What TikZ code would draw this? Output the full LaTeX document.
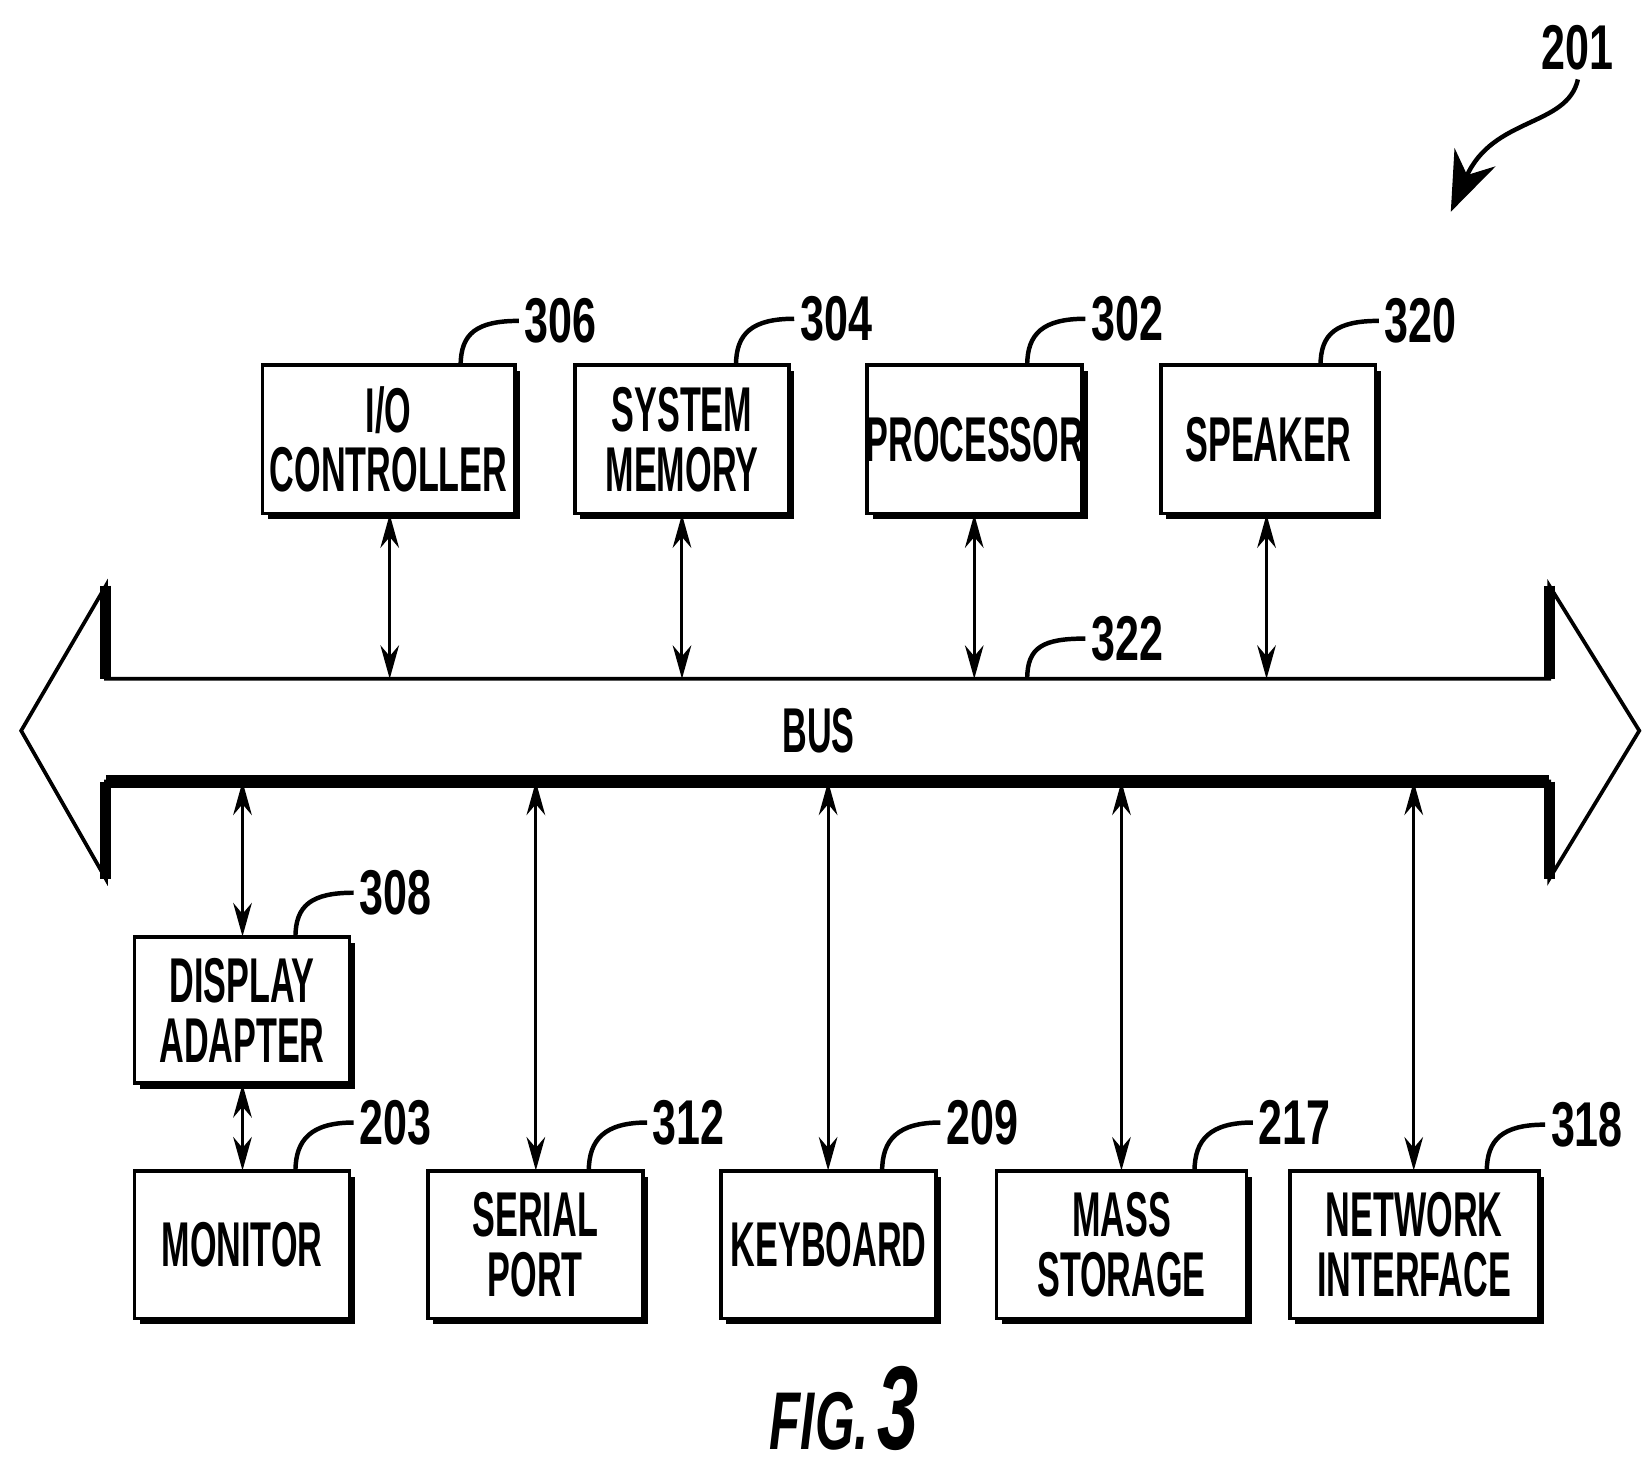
\documentclass[tikz,border=0pt]{standalone}
\usepackage{fontspec}
\setmainfont{Liberation Sans}
\usetikzlibrary{arrows.meta}
\newcommand\nt[1]{\scalebox{0.54}[1]{#1}}
\newcommand\nd[1]{\scalebox{0.68}[1]{#1}}
\begin{document}
\begin{tikzpicture}[x=0.01cm,y=-0.01cm,
  lab/.style={font=\bfseries\fontsize{17}{20}\selectfont,anchor=west,inner sep=1pt},
  conn/.style={{Stealth[length=9pt,width=5pt]}-{Stealth[length=9pt,width=5pt]},line width=0.8pt},
  hook/.style={line width=1.2pt}]
\useasboundingbox (0,0) rectangle (1560,1390);
\newcommand\bx[6]{%
 \fill (#2+5,#3+5) rectangle (#4+5,#5+5);
 \draw[line width=1pt,fill=white] (#2,#3) rectangle (#4,#5);
 \node[font=\bfseries\fontsize{17}{20}\selectfont,align=center,minimum width={(#4-#2)*0.01cm},minimum height={(#5-#3)*0.01cm},inner sep=0pt] (#1) at ({(#2+#4)/2},{(#3+#5)/2}) {#6};}
\bx{io}{248}{345}{486}{485}{\nt{I/O}\\[-4pt]\nt{CONTROLLER}}
\bx{mem}{543}{345}{745}{485}{\nt{SYSTEM}\\[-4pt]\nt{MEMORY}}
\bx{proc}{819}{345}{1022}{485}{\nt{PROCESSOR}}
\bx{spk}{1096}{345}{1299}{485}{\nt{SPEAKER}}
\bx{disp}{127}{885}{330}{1023}{\nt{DISPLAY}\\[-4pt]\nt{ADAPTER}}
\bx{mon}{127}{1106}{330}{1245}{\nt{MONITOR}}
\bx{ser}{404}{1106}{607}{1245}{\nt{SERIAL}\\[-4pt]\nt{PORT}}
\bx{kbd}{681}{1106}{884}{1245}{\nt{KEYBOARD}}
\bx{mass}{941}{1106}{1177}{1245}{\nt{MASS}\\[-4pt]\nt{STORAGE}}
\bx{net}{1218}{1106}{1453}{1245}{\nt{NETWORK}\\[-4pt]\nt{INTERFACE}}
% bus
\draw[line width=1pt,line join=miter] (100,641) -- (1463,641) -- (1463,553) -- (1548,690) -- (1463,830) -- (1463,738) -- (100,738) -- (100,830) -- (20,690) -- (100,553) -- cycle;
\draw[line width=3.5pt] (100,738) -- (1463,738);
\draw[line width=3pt] (100,553) -- (100,641) (100,738) -- (100,830) (1463,738)--(1463,830) (1463,553)--(1463,641);
\node[font=\bfseries\fontsize{17}{20}\selectfont] (bus) at (773,690) {\nt{BUS}};
\coordinate (b1) at (368,641); \coordinate (b2) at (644,641);
\coordinate (b3) at (920,641); \coordinate (b4) at (1196,641);
\coordinate (c1) at (229,738); \coordinate (c2) at (506,738);
\coordinate (c3) at (782,738); \coordinate (c4) at (1059,738); \coordinate (c5) at (1335,738);
\draw[conn] (io.south -| b1) -- (b1);
\draw[conn] (mem.south -| b2) -- (b2);
\draw[conn] (proc.south -| b3) -- (b3);
\draw[conn] (spk.south -| b4) -- (b4);
\draw[conn] (c1) -- (c1 |- disp.north);
\draw[conn] (c2) -- (c2 |- ser.north);
\draw[conn] (c3) -- (c3 |- kbd.north);
\draw[conn] (c4) -- (c4 |- mass.north);
\draw[conn] (c5) -- (c5 |- net.north);
\draw[conn] (disp.south -| c1) -- (c1 |- mon.north);
% hooks
\newcommand\hk[4]{\draw[hook] (#1,#2) .. controls (#1,#2-30) and (#1+15,#3) .. (#1+55,#3) node[lab] {\nd{#4}};}
\hk{435}{345}{303}{306}
\hk{695}{345}{301}{304}
\hk{970}{345}{301}{302}
\hk{1247}{345}{303}{320}
\hk{970}{641}{603}{322}
\hk{279}{885}{843}{308}
\hk{279}{1106}{1060}{203}
\hk{556}{1106}{1060}{312}
\hk{833}{1106}{1060}{209}
\hk{1128}{1106}{1060}{217}
\hk{1404}{1106}{1062}{318}
\node[lab,anchor=center] (n201) at (1490,45) {\nd{201}};
\coordinate (a201) at (1370,200);
\draw[line width=1.2pt,-{Stealth[length=16pt,width=12pt]}] (1490,75) .. controls (1480,120) and (1410,110) .. (a201);
\node[font=\bfseries\itshape\fontsize{22}{26}\selectfont] (fig) at (797,1330) {\scalebox{0.62}[1]{FIG.\,\fontsize{32}{36}\selectfont 3}};
\end{tikzpicture}
\end{document}
